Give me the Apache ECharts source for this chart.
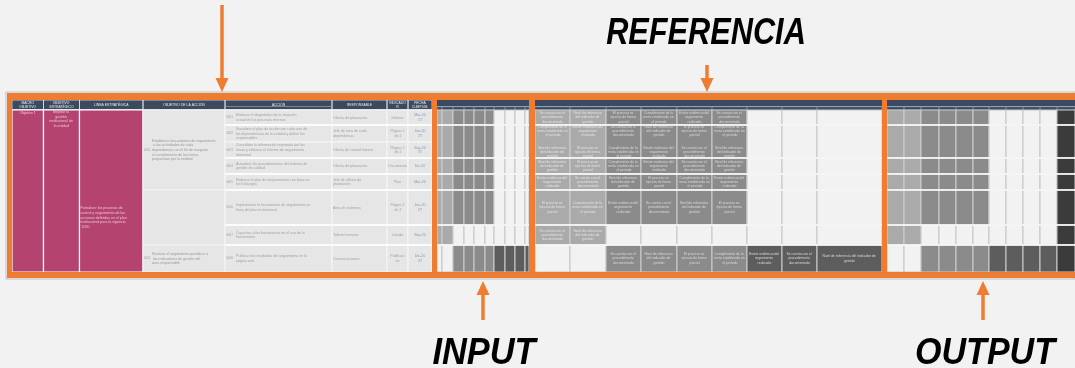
<!DOCTYPE html>
<html><head><meta charset="utf-8">
<script src="https://cdn.jsdelivr.net/npm/echarts@6/dist/echarts.min.js"></script>
<style>html,body{margin:0;padding:0;background:#f2f2f2;}#c{width:1075px;height:368px;}</style>
</head><body><div id="c"></div>
<script>
// ---------- DATA ----------
const sectionRows = [110,125,158,174,190,225,245,272];
const leftRows = [110,125,142,158,174,190,225,245,272];
const leftCols = [12,43.5,79.5,143,225,234,332,387,408,432];
const inputCols = [437,442,453,464,474,485,494,505,515,525,529];
const refCols = [535,570,606,641,677,712,747,782,817,882];
const outputCols = [887,904,921,939,956,973,989,1006,1023,1040,1057,1075];

const inputShades = [
  [1,1,2,2,2,2,0,0,0,0],[1,1,2,2,2,2,0,0,0,0],[1,1,2,2,2,2,0,0,0,0],
  [1,1,2,2,2,2,0,0,0,0],[1,1,2,2,2,2,0,0,0,0],
  [1,1,0,0,0,0,0,0,0,0],
  [0,0,2,2,2,2,3,3,3,3]
];
const refShades = [
  [1,1,2,2,2,2,0,0,0],[1,1,2,2,2,2,0,0,0],[1,1,2,2,2,2,0,0,0],
  [1,1,2,2,2,2,0,0,0],[1,1,2,2,2,2,0,0,0],
  [1,1,0,0,0,0,0,0,0],
  [0,0,2,2,2,2,3,3,3]
];
const outputShades = [
  [1,1,2,2,2,2,0,0,0,0,4],[1,1,2,2,2,2,0,0,0,0,4],[1,1,2,2,2,2,0,0,0,0,4],
  [1,1,2,2,2,2,0,0,0,0,4],[1,1,2,2,2,2,0,0,0,0,4],
  [1,1,0,0,0,0,0,0,0,0,4],
  [0,0,2,2,2,2,3,3,3,3,4]
];

const leftHeaders = ['MACRO\nOBJETIVO','OBJETIVO ESTRATÉGICO','LÍNEA ESTRATÉGICA','OBJETIVO DE LA ACCIÓN','ACCIÓN','RESPONSABLE','INDICADOR','FECHA\nCUMPLIM.'];
const leftHeaderSpans = [[0,1],[1,2],[2,3],[3,4],[4,6],[6,7],[7,8],[8,9]];
const macroText = 'Objetivo 1';
const objText = 'Mejorar la gestión institucional de la entidad';
const lineaText = 'Fortalecer los procesos de control y seguimiento de las acciones definidas en el plan institucional para la vigencia 2020';
const objAccionTexts = [
  'Establecer mecanismos de seguimiento a las actividades de cada dependencia con el fin de asegurar el cumplimiento de las metas propuestas por la entidad',
  'Realizar el seguimiento periódico a los indicadores de gestión del área responsable'
];
const actionCodes = ['0001','0002','0003','0004','0005','0006','0007','0008'];
const actionTexts = [
  'Elaborar el diagnóstico de la situación actual de los procesos internos',
  'Socializar el plan de acción con cada una de las dependencias de la entidad y definir los responsables',
  'Consolidar la información reportada por las áreas y elaborar el informe de seguimiento trimestral',
  'Actualizar los procedimientos del sistema de gestión de calidad',
  'Elaborar el plan de mejoramiento con base en los hallazgos',
  'Implementar la herramienta de seguimiento en línea del plan institucional',
  'Capacitar a los funcionarios en el uso de la herramienta',
  'Publicar los resultados del seguimiento en la página web'
];
const responsables = ['Oficina de planeación','Jefe de área de cada dependencia','Oficina de control interno','Oficina de planeación','Jefe de oficina de planeación','Área de sistemas','Talento humano','Comunicaciones'];
const indicadores = ['Informe','Página 1 de 2','Página 1 de 2','Documento','Plan','Página 1 de 2','Listado','Publicación'];
const fechas = ['Mar-20\n1T','Jun-20\n2T','Sep-20\n3T','Dic-20','Mar-20','Jun-20\n2T','Sep-20','Dic-20\n4T'];
const refPhrases = [
  'Se cuenta con el procedimiento documentado',
  'Nivel de referencia del indicador de gestión',
  'El proceso se ejecuta de forma parcial',
  'Cumplimiento de la meta establecida en el periodo',
  'Existe evidencia del seguimiento realizado'
];
const labelTexts = ['REFERENCIA','INPUT','OUTPUT'];
const labelAnchors = [[706,34],[484,354],[985,354]];
const labelScale = [0.83,0.93,0.92];
const arrows = [[222,5,92],[707,65,92],[483,320,281],[983,320,281]];

// ---------- STYLE ----------
const palette = ['#f2f2f2','#aaaaaa','#8b8b8b','#5d5d5d','#3b3b3b'];
const ORANGE = '#ee7d31', HEAD = '#3c4a5f', MAGENTA = '#b4446f', LIGHT = '#e6e6e6';

// ---------- BUILD ----------
const rects = [];
const texts = [];
function R(x0,y0,x1,y1,fill,stroke,lw){ rects.push({x0,y0,x1,y1,fill,stroke,lw}); }
function T(x0,y0,x1,y1,text,o){ texts.push(Object.assign({x0,y0,x1,y1,text,fs:3.6,fill:'#a2a2a2',align:'center',valign:'middle',wrap:true},o||{})); }

// outer faint outline
R(6,92,1075,279,null,'#c0c0c0',1);

// left table
R(12,100,432,109.5,HEAD,null,0);
leftHeaderSpans.forEach((s,i)=>{
  R(leftCols[s[0]],100,leftCols[s[1]],109.5,null,'#d8dee6',0.8);
  T(leftCols[s[0]],100,leftCols[s[1]],109.5,leftHeaders[i],{fill:'#e8ecf2',fs:3.4,lh:3.8});
});
R(225,106,332,106.6,'#b8c4d2',null,0);
[0,1,2].forEach(c=>R(leftCols[c],110,leftCols[c+1],272,MAGENTA,'#ffffff',1.2));
[[0,5],[5,7],[7,8]].forEach(s=>R(leftCols[3],leftRows[s[0]],leftCols[4],leftRows[s[1]],LIGHT,'#f4f4f4',1));
for(let r=0;r<leftRows.length-1;r++){
  R(leftCols[4],leftRows[r],leftCols[6],leftRows[r+1],LIGHT,'#f6f6f6',1);
  for(let c=6;c<9;c++) R(leftCols[c],leftRows[r],leftCols[c+1],leftRows[r+1],LIGHT,'#f6f6f6',1);
  T(leftCols[4],leftRows[r],leftCols[5],leftRows[r+1],actionCodes[r],{fs:3,wrap:false});
  T(leftCols[5]+1,leftRows[r],leftCols[6]-2,leftRows[r+1],actionTexts[r],{align:'left'});
  T(leftCols[6],leftRows[r],leftCols[7],leftRows[r+1],responsables[r],{align:'left'});
  T(leftCols[7],leftRows[r],leftCols[8],leftRows[r+1],indicadores[r]);
  T(leftCols[8],leftRows[r],leftCols[9],leftRows[r+1],fechas[r],{fill:'#8397bb',lh:4.2});
}
T(leftCols[0],110,leftCols[1],116,macroText,{fill:'#ecc0d2'});
T(leftCols[1],110,leftCols[2],128,objText,{fill:'#ecc0d2'});
T(leftCols[2],leftRows[5],leftCols[3],leftRows[7],lineaText,{fill:'#ecc0d2',align:'left'});
T(leftCols[3]+8,leftRows[0],leftCols[4],leftRows[5],objAccionTexts[0],{align:'left',fill:'#999999'});
T(leftCols[3]+8,leftRows[7],leftCols[4],leftRows[8],objAccionTexts[1],{align:'left',fill:'#999999'});
T(leftCols[3],leftRows[0],leftCols[3]+8,leftRows[5],'0001',{fs:3,wrap:false});
T(leftCols[3],leftRows[7],leftCols[3]+8,leftRows[8],'0002',{fs:3,wrap:false});

// shaded sections
function section(cols, shades, withText){
  R(cols[0],100,cols[cols.length-1],110,HEAD,null,0);
  R(cols[0],106,cols[cols.length-1],106.8,'#c5d0dc',null,0);
  for(let c=0;c<cols.length-1;c++){
    R(cols[c],106.8,cols[c+1],110,null,'#7f90a6',0.6);
  }
  for(let r=0;r<shades.length;r++){
    for(let c=0;c<cols.length-1;c++){
      const s = shades[r][c];
      R(cols[c],sectionRows[r],cols[c+1],sectionRows[r+1],palette[s],s===0?'#c4c4c4':'#cfcfcf',1);
      if(withText && s>0){
        const txt = refPhrases[(r*3+c)%refPhrases.length] + (r===1 ? '\n\n\n' + refPhrases[(r+c)%refPhrases.length] : '');
        T(cols[c]+1,sectionRows[r],cols[c+1]-1,sectionRows[r+1],txt,{fill:s===1?'#e2e2e2':'#d8d8d8',fs:3.4,lh:4.2});
      }
    }
  }
  for(let r=1;r<sectionRows.length-1;r++){
    R(cols[0],sectionRows[r]-0.8,cols[cols.length-1],sectionRows[r]+0.8,'#ffffff',null,0);
  }
}
section(inputCols,inputShades,false);
section(refCols,refShades,true);
section(outputCols,outputShades,false);
// left table row separators (action columns)
[1,3,4,5,6,7].forEach(r=>R(leftCols[4],leftRows[r]-0.7,leftCols[9],leftRows[r]+0.7,'#ffffff',null,0));

// orange frame
R(7,93,1075,100,ORANGE,null,0);
R(7,272,1075,278,ORANGE,null,0);
R(7,93,12,278,ORANGE,null,0);
[[432,437],[529,535],[882,887]].forEach(s=>R(s[0],93,s[1],278,ORANGE,null,0));

// ---------- CHART ----------
const chart = echarts.init(document.getElementById('c'), null, {renderer:'canvas'});
function box(api,c){
  const p0 = api.coord([c.x0,c.y0]), p1 = api.coord([c.x1,c.y1]);
  return [p0[0],p0[1],p1[0]-p0[0],p1[1]-p0[1]];
}
chart.setOption({
  animation:false,
  backgroundColor:'#f2f2f2',
  grid:{left:0,right:0,top:0,bottom:0},
  xAxis:{type:'value',min:0,max:1075,show:false},
  yAxis:{type:'value',min:0,max:368,inverse:true,show:false},
  series:[
    {type:'custom',coordinateSystem:'cartesian2d',silent:true,
     data:rects.map(c=>[c.x0,c.y0]),
     renderItem:(p,api)=>{
       const c = rects[p.dataIndex]; const b = box(api,c);
       return {type:'rect',shape:{x:b[0],y:b[1],width:b[2],height:b[3]},
         style:{fill:c.fill||'none',stroke:c.stroke||null,lineWidth:c.lw||0}};
     }},
    {type:'custom',coordinateSystem:'cartesian2d',silent:true,
     data:texts.map(c=>[c.x0,c.y0]),
     renderItem:(p,api)=>{
       const c = texts[p.dataIndex]; const b = box(api,c);
       const x = c.align==='left' ? b[0]+1 : b[0]+b[2]/2;
       const st = {text:c.text,fill:c.fill,fontSize:c.fs,lineHeight:c.lh||c.fs+1,fontFamily:'Liberation Sans',
           align:c.align,verticalAlign:'middle'};
       if(c.wrap){ st.width = Math.max(b[2]-2,4); st.overflow = 'break'; }
       return {type:'text',x:x,y:b[1]+b[3]/2,style:st};
     }},
    {type:'custom',coordinateSystem:'cartesian2d',silent:true,
     data:arrows.map(a=>[a[0],a[1]]),
     renderItem:(p,api)=>{
       const a = arrows[p.dataIndex];
       const tail = api.coord([a[0],a[1]]), tip = api.coord([a[0],a[2]]);
       const dir = tip[1] > tail[1] ? 1 : -1, headLen = 14, halfW = 6.5;
       const base = tip[1] - dir*headLen;
       return {type:'group',children:[
         {type:'line',shape:{x1:tail[0],y1:tail[1],x2:tail[0],y2:base},style:{stroke:ORANGE,lineWidth:3.5}},
         {type:'polygon',shape:{points:[[tip[0],tip[1]],[tip[0]-halfW,base],[tip[0]+halfW,base]]},style:{fill:ORANGE}}
       ]};
     }},
    {type:'custom',coordinateSystem:'cartesian2d',silent:true,
     data:labelAnchors,
     renderItem:(p,api)=>{
       const pt = api.coord(labelAnchors[p.dataIndex]);
       return {type:'text',x:pt[0],y:pt[1],scaleX:labelScale[p.dataIndex],
         style:{text:labelTexts[p.dataIndex],fill:'#000000',fontSize:37,fontWeight:'bold',fontStyle:'italic',
           fontFamily:'Liberation Sans',align:'center',verticalAlign:'middle'}};
     }}
  ]
});
</script></body></html>
